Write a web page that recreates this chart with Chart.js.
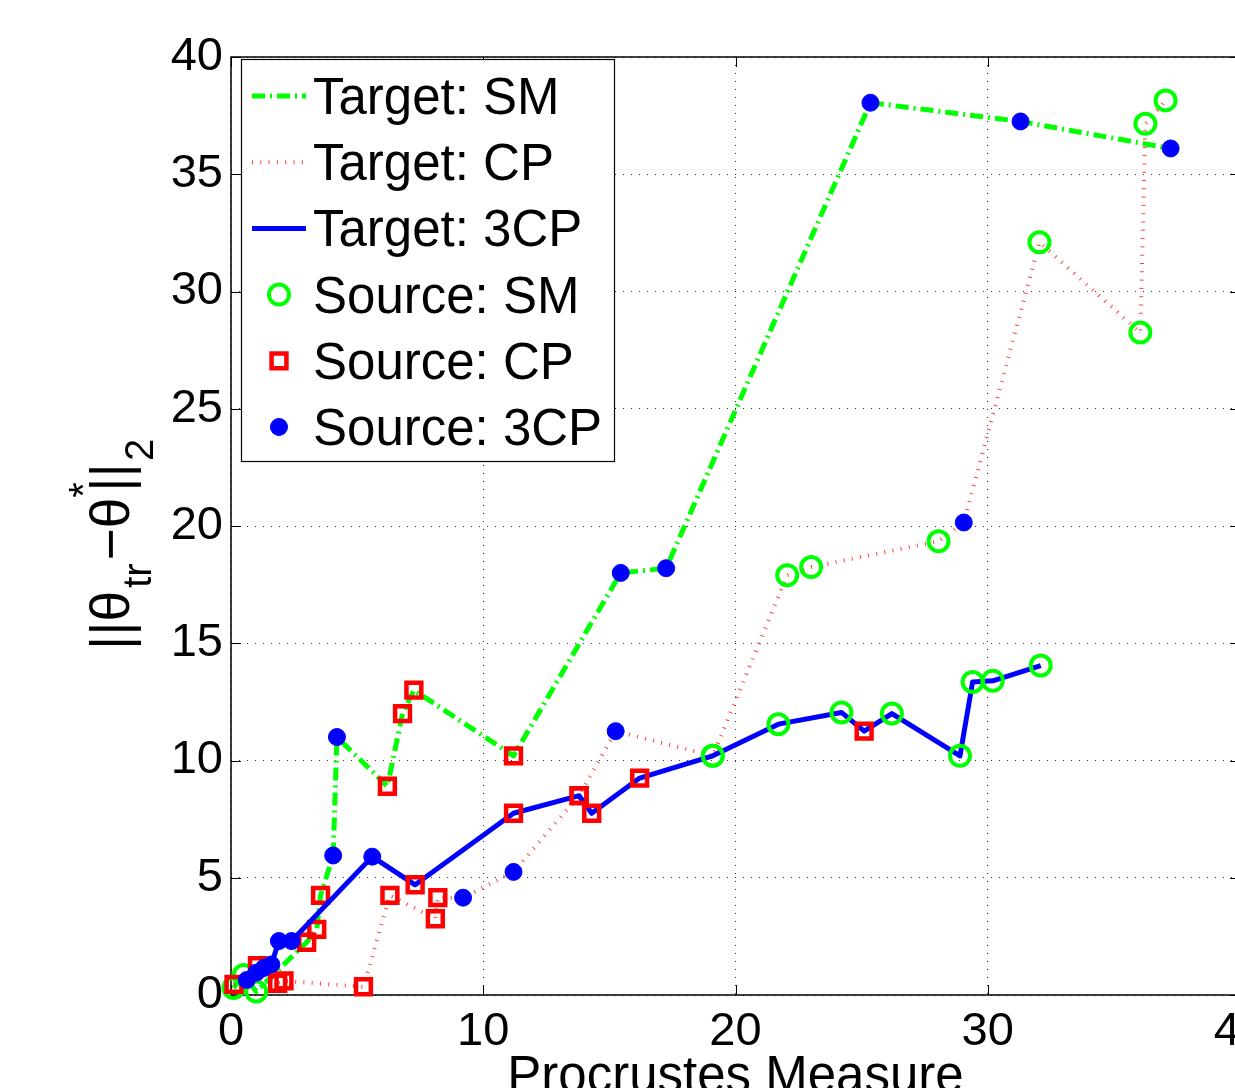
<!DOCTYPE html>
<html lang="en">
<head>
  <meta charset="UTF-8">
  <title>Procrustes Measure vs parameter error</title>
  <script src="https://cdn.jsdelivr.net/npm/chart.js"></script>
  <style>
    html, body {
      margin: 0;
      padding: 0;
      background: #fff;
      overflow: hidden;
    }

    #wrap {
      width: 1280px;
      height: 1100px;
    }
  </style>
</head>
<body>
  <div id="wrap"><canvas id="chart" width="1280" height="1100"></canvas></div>
  <script>
    // axis ticks
    const xTickValues = [0, 10, 20, 30, 40];
    const yTickValues = [0, 5, 10, 15, 20, 25, 30, 35, 40];

    // Target: SM  (x = Procrustes measure, y = error, src = source task type)
    const smX = [0.1, 0.5, 1.0, 3.0, 3.4, 3.55, 4.05, 4.2, 6.2, 6.8, 7.25, 11.2, 15.45, 17.25, 25.35, 31.3, 37.25];
    const smY = [0.3, 0.85, 0.15, 2.25, 2.8, 4.25, 5.95, 11.0, 8.9, 12.0, 13.0, 10.2, 18.0, 18.2, 38.05, 37.25, 36.1];
    const smSrc = ['SM', 'SM', 'SM', 'CP', 'CP', 'CP', '3CP', '3CP', 'CP', 'CP', 'CP', 'CP', '3CP', '3CP', '3CP', '3CP', '3CP'];

    // Target: CP
    const cpX = [0.12, 1.05, 1.85, 2.1, 5.25, 6.3, 8.1, 8.2, 9.2, 11.2, 13.8, 15.25, 19.1, 22.05, 23.0, 28.05, 29.05, 32.05, 36.05, 36.25, 37.05];
    const cpY = [0.45, 1.25, 0.5, 0.6, 0.35, 4.25, 3.25, 4.15, 4.15, 5.25, 8.5, 11.25, 10.2, 17.9, 18.25, 19.35, 20.15, 32.1, 28.25, 37.15, 38.15];
    const cpSrc = ['CP', 'CP', 'CP', 'CP', 'CP', 'CP', 'CP', 'CP', '3CP', '3CP', 'CP', '3CP', 'SM', 'SM', 'SM', 'SM', '3CP', 'SM', 'SM', 'SM', 'SM'];

    // Target: 3CP
    const tcX = [0.63, 1.0, 1.3, 1.6, 1.9, 2.4, 5.6, 7.3, 11.2, 13.8, 14.3, 16.2, 19.1, 21.7, 24.2, 25.1, 26.2, 28.9, 29.4, 30.2, 32.1];
    const tcY = [0.64, 0.95, 1.15, 1.3, 2.3, 2.3, 5.9, 4.7, 7.75, 8.5, 7.75, 9.25, 10.2, 11.55, 12.05, 11.25, 12.0, 10.2, 13.35, 13.4, 14.05];
    const tcSrc = ['3CP', '3CP', '3CP', '3CP', '3CP', '3CP', '3CP', 'CP', 'CP', 'CP', 'CP', 'CP', 'SM', 'SM', 'SM', 'CP', 'SM', 'SM', 'SM', 'SM', 'SM'];

    const FONT = "'Liberation Sans', Arial, Helvetica, sans-serif";

    const markers = {
      SM: { style: 'circle', r: 10, fill: 'rgba(0,0,0,0)', stroke: '#00ff00', w: 4 },
      CP: { style: 'rect', r: 10.5, fill: 'rgba(0,0,0,0)', stroke: '#ff0000', w: 4.5 },
      '3CP': { style: 'circle', r: 8.5, fill: '#0000ff', stroke: '#0000ff', w: 1 }
    };

    const lines = {
      SM: { color: '#00ff00', width: 5, dash: [13, 5, 2, 5] },
      CP: { color: 'rgba(255,0,0,0.75)', width: 4, dash: [1, 7.3] },
      '3CP': { color: '#0000ff', width: 5, dash: [] }
    };

    function series(label, key, xs, ys, src) {
      const ln = lines[key];
      return {
        label,
        data: xs.map((x, i) => ({ x, y: ys[i] })),
        showLine: true,
        tension: 0,
        clip: false,
        borderColor: ln.color,
        borderWidth: ln.width,
        borderDash: ln.dash,
        borderCapStyle: 'butt',
        borderJoinStyle: 'round',
        pointStyle: src.map(s => markers[s].style),
        pointRadius: src.map(s => markers[s].r),
        pointBackgroundColor: src.map(s => markers[s].fill),
        pointBorderColor: src.map(s => markers[s].stroke),
        pointBorderWidth: src.map(s => markers[s].w),
        pointHoverRadius: src.map(s => markers[s].r)
      };
    }

    function drawMarker(ctx, key, x, y) {
      const m = markers[key];
      ctx.save();
      ctx.lineWidth = m.w;
      ctx.strokeStyle = m.stroke;
      ctx.fillStyle = m.fill;
      ctx.beginPath();
      if (m.style === 'rect') {
        const s = m.r * Math.SQRT1_2;
        ctx.rect(x - s, y - s, 2 * s, 2 * s);
      } else {
        ctx.arc(x, y, m.r, 0, Math.PI * 2);
      }
      ctx.fill();
      ctx.stroke();
      ctx.restore();
    }

    // box round the axes with inward ticks
    const frame = {
      id: 'frame',
      beforeDatasetsDraw(chart) {
        const { ctx, chartArea: a, scales: { x, y } } = chart;
        ctx.save();
        ctx.strokeStyle = '#000';
        ctx.lineWidth = 1;
        ctx.beginPath();
        xTickValues.forEach(v => {
          const px = Math.round(x.getPixelForValue(v)) + 0.5;
          ctx.moveTo(px, a.bottom); ctx.lineTo(px, a.bottom - 10);
          ctx.moveTo(px, a.top); ctx.lineTo(px, a.top + 10);
        });
        yTickValues.forEach(v => {
          const py = Math.round(y.getPixelForValue(v)) + 0.5;
          ctx.moveTo(a.left, py); ctx.lineTo(a.left + 10, py);
          ctx.moveTo(a.right, py); ctx.lineTo(a.right - 10, py);
        });
        ctx.stroke();
        ctx.lineWidth = 1.5;
        ctx.strokeRect(a.left, a.top, a.right - a.left, a.bottom - a.top);
        ctx.restore();
      }
    };

    // axis titles (y title has sub/superscripts)
    const titles = {
      id: 'titles',
      afterDraw(chart) {
        const { ctx, chartArea: a } = chart;
        ctx.save();
        ctx.fillStyle = '#000';
        ctx.textAlign = 'center';
        ctx.textBaseline = 'alphabetic';
        ctx.font = '51px ' + FONT;
        ctx.fillText('Procrustes Measure', (a.left + a.right) / 2, 1092);

        ctx.textAlign = 'left';
        ctx.translate(129, 650);
        ctx.rotate(-Math.PI / 2);
        let pos = 0;
        const part = (t, size, dy, gap) => {
          ctx.font = size + 'px ' + FONT;
          ctx.fillText(t, pos, dy);
          pos += ctx.measureText(t).width + (gap || 0);
        };
        part('||\u03b8', 55, 0, 3);
        part('tr', 40, 22, 3);
        part('\u2212\u03b8', 55, 0, 0);
        const p0 = pos;
        part('*', 40, -32);
        pos = p0 + 6;
        part('||', 55, 0, 2);
        part('2', 40, 24);
        ctx.restore();
      }
    };

    // legend box in the upper left corner
    const legendBox = {
      id: 'legendBox',
      afterDraw(chart) {
        const ctx = chart.ctx;
        const rows = [
          { text: 'Target: SM', line: 'SM' },
          { text: 'Target: CP', line: 'CP' },
          { text: 'Target: 3CP', line: '3CP' },
          { text: 'Source: SM', marker: 'SM' },
          { text: 'Source: CP', marker: 'CP' },
          { text: 'Source: 3CP', marker: '3CP' }
        ];
        ctx.save();
        ctx.fillStyle = '#fff';
        ctx.fillRect(241, 59, 373, 402);
        ctx.strokeStyle = '#000';
        ctx.lineWidth = 1.2;
        ctx.strokeRect(241.5, 59.5, 373, 402);
        rows.forEach((r, i) => {
          const cy = 96 + i * 66.2;
          if (r.line) {
            const ln = lines[r.line];
            ctx.save();
            ctx.strokeStyle = ln.color;
            ctx.lineWidth = ln.width;
            ctx.setLineDash(ln.dash);
            ctx.beginPath();
            ctx.moveTo(252, cy);
            ctx.lineTo(306, cy);
            ctx.stroke();
            ctx.restore();
          } else {
            drawMarker(ctx, r.marker, 279, cy);
          }
          ctx.fillStyle = '#000';
          ctx.font = '51px ' + FONT;
          ctx.textAlign = 'left';
          ctx.textBaseline = 'alphabetic';
          ctx.fillText(r.text, 313, cy + 18);
        });
        ctx.restore();
      }
    };

    new Chart(document.getElementById('chart').getContext('2d'), {
      type: 'scatter',
      data: {
        datasets: [
          series('Target: 3CP', '3CP', tcX, tcY, tcSrc),
          series('Target: CP', 'CP', cpX, cpY, cpSrc),
          series('Target: SM', 'SM', smX, smY, smSrc)
        ]
      },
      options: {
        responsive: false,
        animation: false,
        events: [],
        layout: { padding: { left: 0, top: 57, right: 40, bottom: 0 } },
        plugins: {
          legend: { display: false },
          tooltip: { enabled: false }
        },
        scales: {
          x: {
            type: 'linear',
            min: 0,
            max: 40,
            afterFit(s) { s.height = 105; },
            afterBuildTicks(s) { s.ticks = xTickValues.map(v => ({ value: v })); },
            grid: { color: '#333', lineWidth: 1, drawTicks: false },
            border: { display: false, dash: [1, 7] },
            ticks: { font: { family: FONT, size: 47 }, color: '#000', padding: 9, maxRotation: 0, autoSkip: false }
          },
          y: {
            type: 'linear',
            min: 0,
            max: 40,
            afterFit(s) { s.width = 231; },
            afterBuildTicks(s) { s.ticks = yTickValues.map(v => ({ value: v })); },
            grid: { color: '#333', lineWidth: 1, drawTicks: false },
            border: { display: false, dash: [1, 7] },
            ticks: { font: { family: FONT, size: 47 }, color: '#000', padding: 8, autoSkip: false }
          }
        }
      },
      plugins: [frame, titles, legendBox]
    });
  </script>
</body>
</html>
